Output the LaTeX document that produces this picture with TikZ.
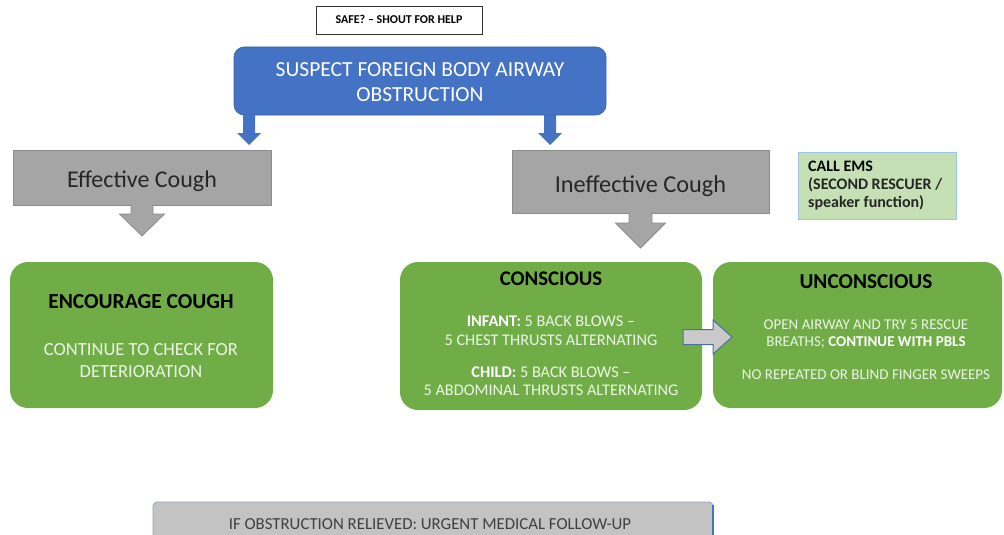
\documentclass[tikz,border=0pt]{standalone}
\usepackage{fontspec}
\setmainfont{Carlito}
\usetikzlibrary{calc}
\definecolor{blueF}{HTML}{4472C4}
\definecolor{greenF}{HTML}{70AD47}
\definecolor{grayF}{HTML}{A5A5A5}
\definecolor{grayD}{HTML}{8C8C8C}
\definecolor{emsF}{HTML}{C5E0B4}
\definecolor{emsD}{HTML}{9DC3E6}
\definecolor{paleT}{HTML}{EDF5E6}
\definecolor{botF}{HTML}{C3C3C3}
\definecolor{botD}{HTML}{8FA2C4}
\definecolor{arrF}{HTML}{C9C9C9}
\definecolor{arrD}{HTML}{4A6FA5}
\definecolor{darkT}{HTML}{262626}
\newcommand\fs[1]{\fontsize{#1}{#1}\selectfont}
% vertical block arrow: style, from, to, half shaft, half head, head length, closing
\newcommand\vblock[7]{%
  \path[#1] let \p1=(#2), \p2=(#3) in
   (\x1-#4,\y1) -- (\x1-#4,\y2+#6) -- (\x1-#5,\y2+#6) -- (\x1,\y2)
   -- (\x1+#5,\y2+#6) -- (\x1+#4,\y2+#6) -- (\x1+#4,\y1) #7;}
% horizontal block arrow: style, from, to, half shaft, half head, head length
\newcommand\hblock[6]{%
  \path[#1] let \p1=(#2), \p2=(#3) in
   (\x1,\y2-#4) -- (\x2-#6,\y2-#4) -- (\x2-#6,\y2-#5) -- (\x2,\y2)
   -- (\x2-#6,\y2+#5) -- (\x2-#6,\y2+#4) -- (\x1,\y2+#4) -- cycle;}
\begin{document}
\begin{tikzpicture}[x=1pt,y=-1pt,
  box/.style={inner sep=0pt, outer sep=0pt},
  bluebox/.style={box, fill=blueF, draw=blueF!85!black, line width=0.6pt, rounded corners=10pt},
  graybox/.style={box, fill=grayF, draw=grayD, line width=0.8pt},
  greenbox/.style={box, fill=greenF, rounded corners=18pt},
  txt/.style={inner sep=0pt, anchor=base},
  ltxt/.style={inner sep=0pt, anchor=base west},
  bluearrow/.style={fill=blueF},
  grayarrow/.style={fill=grayF, draw=grayD, line width=0.8pt},
  sidearrow/.style={fill=arrF, draw=arrD, line width=1pt, line join=miter}]
\useasboundingbox (0,0) rectangle (1004,535);
\clip (0,0) rectangle (1004,535);

% boxes
\node[box, draw=black!80, line width=0.8pt, fill=white, minimum width=166pt, minimum height=28pt] (safe) at (399,20) {};
\node[bluebox, minimum width=372pt, minimum height=68pt] (main) at (420,81) {};
\node[graybox, minimum width=258pt, minimum height=55pt] (eff) at (142,177.5) {};
\node[graybox, minimum width=257pt, minimum height=63pt] (ineff) at (640.5,181.5) {};
\node[box, fill=emsF, draw=emsD, line width=0.8pt, minimum width=158pt, minimum height=67pt] (ems) at (877,185.5) {};
\node[greenbox, minimum width=263pt, minimum height=146pt] (enc) at (141.5,335) {};
\node[greenbox, minimum width=302pt, minimum height=148pt] (cons) at (551,336) {};
\node[greenbox, minimum width=289pt, minimum height=146pt] (unc) at (857.5,335) {};
\node[box, fill=botF, draw=botD, line width=0.8pt, rounded corners=4pt, minimum width=560pt, minimum height=43pt] (bot) at (433,523.5) {};
\draw[blueF, line width=2pt] ($(bot.north east)+(0,3)$) -- ($(bot.south east)+(0,-3)$);

% blue arrows
\coordinate (aL) at (249,0);
\coordinate (aR) at (550,0);
\vblock{bluearrow}{main.south -| aL}{$(eff.north -| aL)+(0,-5)$}{6pt}{12pt}{12pt}{--cycle}
\vblock{bluearrow}{main.south -| aR}{$(ineff.north -| aR)+(0,-5)$}{6pt}{12pt}{12pt}{--cycle}

% gray arrows
\vblock{grayarrow}{$(eff.south)+(0,-1.5)$}{$(enc.north -| eff.south)+(0,-26)$}{11pt}{22.5pt}{22pt}{}
\vblock{grayarrow}{$(ineff.south)+(0,-1.5)$}{$(cons.north -| ineff.south)+(0,-14)$}{11.5pt}{25pt}{25pt}{}

% side arrow
\hblock{sidearrow}{$(cons.east)+(-19,1)$}{$(unc.west)+(19,2)$}{7.5pt}{17pt}{19pt}

% texts
\node[txt, font=\bfseries\fs{12}] (tsafe) at (399,24) {SAFE? – SHOUT FOR HELP};
\node[txt, font=\fs{21.5}, text=white] (tm1) at (420,77) {SUSPECT FOREIGN BODY AIRWAY};
\node[txt, font=\fs{21.5}, text=white] (tm2) at (420,101) {OBSTRUCTION};
\node[txt, font=\fs{24}, text=darkT] (teff) at (142,187) {Effective Cough};
\node[txt, font=\fs{24.3}, text=darkT] (tineff) at (640.5,192) {Ineffective Cough};
\node[ltxt, font=\bfseries\fs{16}, text=black] (te1) at (808,171) {CALL EMS};
\node[ltxt, font=\bfseries\fs{16}, text=darkT] (te2) at (808,189) {(SECOND RESCUER /};
\node[ltxt, font=\bfseries\fs{16}, text=darkT] (te3) at (808,207) {speaker function)};

\node[txt, font=\bfseries\fs{21.5}, text=black] (tenc1) at (141,308) {ENCOURAGE COUGH};
\node[txt, font=\fs{18.5}, text=paleT] (tenc2) at (141,355) {CONTINUE TO CHECK FOR};
\node[txt, font=\fs{18.5}, text=paleT] (tenc3) at (141,377) {DETERIORATION};

\node[txt, font=\bfseries\fs{20.8}, text=black] (tc1) at (551,285) {CONSCIOUS};
\node[txt, font=\fs{16.3}, text=paleT] (tc2) at (551,326) {\textcolor{white}{\bfseries INFANT:} 5 BACK BLOWS –};
\node[txt, font=\fs{16.3}, text=paleT] (tc3) at (551,345) {5 CHEST THRUSTS ALTERNATING};
\node[txt, font=\fs{16.3}, text=paleT] (tc4) at (551,377) {\textcolor{white}{\bfseries CHILD:} 5 BACK BLOWS –};
\node[txt, font=\fs{16.3}, text=paleT] (tc5) at (551,395) {5 ABDOMINAL THRUSTS ALTERNATING};

\node[txt, font=\bfseries\fs{21.3}, text=black] (tu1) at (866,288) {UNCONSCIOUS};
\node[txt, font=\fs{15}, text=paleT] (tu2) at (866,329) {OPEN AIRWAY AND TRY 5 RESCUE};
\node[txt, font=\fs{15}, text=paleT] (tu3) at (866,346) {BREATHS; \textcolor{white}{\bfseries CONTINUE WITH PBLS}};
\node[txt, font=\fs{15}, text=paleT] (tu4) at (866,379) {NO REPEATED OR BLIND FINGER SWEEPS};

\node[txt, font=\fs{16.8}, text=black!75] (tbot) at (430,529) {IF OBSTRUCTION RELIEVED: URGENT MEDICAL FOLLOW-UP};
\end{tikzpicture}
\end{document}
